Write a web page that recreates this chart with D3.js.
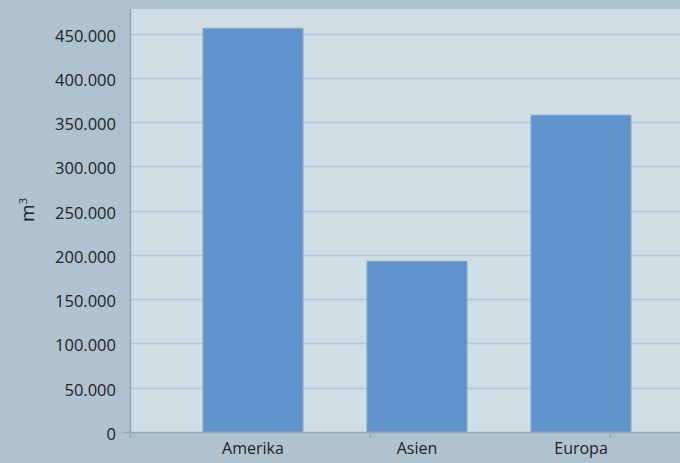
<!DOCTYPE html>
<html>
<head>
<meta charset="utf-8">
<script src="https://cdn.jsdelivr.net/npm/d3@7"></script>
<style>
    body { margin: 0; background: #afc3ce; }
    svg text { font-family: "Open Sans", "Noto Sans", sans-serif; }
</style>
</head>
<body>
<div id="chart"></div>
<script>
var categories = ["Amerika", "Asien", "Europa"];
var values = [456000, 193000, 358000];
var yTicks = [0, 50000, 100000, 150000, 200000, 250000, 300000, 350000, 400000, 450000];

var width = 680,
    height = 463,
    plotLeft = 130,
    plotTop = 9,
    baseY = 432;

var svg = d3.select("#chart")
    .append("svg")
    .attr("width", width)
    .attr("height", height)
    .style("display", "block");

svg.append("rect")
    .attr("width", width)
    .attr("height", height)
    .style("fill", "#afc3ce");

svg.append("rect")
    .attr("x", plotLeft)
    .attr("y", plotTop)
    .attr("width", width - plotLeft)
    .attr("height", baseY - plotTop)
    .style("fill", "#cfdde5");

var y = d3.scaleLinear()
    .domain([0, 450000])
    .range([baseY, 33.7]);

var x = d3.scaleBand()
    .domain(categories)
    .range([171, 663])
    .paddingInner(0.39)
    .paddingOuter(0.195);

// gridlines
svg.append("g")
    .selectAll("line")
    .data(yTicks.slice(1))
    .enter()
    .append("line")
    .attr("x1", plotLeft)
    .attr("x2", width)
    .attr("y1", d => Math.round(y(d)) + 0.5)
    .attr("y2", d => Math.round(y(d)) + 0.5)
    .style("stroke", "#b2c5d0")
    .style("stroke-width", "1.5px");

// bars
svg.append("g")
    .selectAll("rect")
    .data(values)
    .enter()
    .append("rect")
    .attr("x", (d, i) => x(categories[i]))
    .attr("y", d => y(d))
    .attr("width", x.bandwidth())
    .attr("height", d => baseY - y(d))
    .style("fill", "#5f93cd")
    .style("stroke", "#8eaaba")
    .style("stroke-width", "1px");

// y axis
var yAxis = d3.axisLeft(y)
    .tickValues(yTicks)
    .tickSize(0)
    .tickPadding(14)
    .tickFormat(d => d3.format(",")(d).replace(/,/g, "."));

var gy = svg.append("g")
    .attr("transform", "translate(" + plotLeft + ",0)")
    .call(yAxis);

gy.select("path").remove();
gy.selectAll(".tick text")
    .attr("dy", "0.45em")
    .style("fill", "#222")
    .style("font-size", "16.5px");

svg.append("line")
    .attr("x1", plotLeft + 0.5)
    .attr("x2", plotLeft + 0.5)
    .attr("y1", plotTop)
    .attr("y2", baseY + 6)
    .style("stroke", "#8ea8b5")
    .style("stroke-width", "1.5px");

// x axis
var xAxis = d3.axisBottom(x)
    .tickSize(0)
    .tickPadding(11);

var gx = svg.append("g")
    .attr("transform", "translate(0," + baseY + ")")
    .call(xAxis);

gx.select("path").remove();
gx.selectAll(".tick text")
    .style("fill", "#222")
    .style("font-size", "16px");

svg.append("line")
    .attr("x1", 123)
    .attr("x2", width)
    .attr("y1", baseY + 0.5)
    .attr("y2", baseY + 0.5)
    .style("stroke", "#8ea8b5")
    .style("stroke-width", "1.5px");

// category separators below the axis
var sep = d3.scaleLinear().domain([0, 2]).range([plotLeft, 610]);
svg.append("g")
    .selectAll("line")
    .data([1, 2])
    .enter()
    .append("line")
    .attr("x1", d => sep(d) + 0.5)
    .attr("x2", d => sep(d) + 0.5)
    .attr("y1", baseY)
    .attr("y2", baseY + 6)
    .style("stroke", "#8ea8b5")
    .style("stroke-width", "1.5px");

// y axis title
var title = svg.append("text")
    .attr("transform", "translate(34,210) rotate(-90)")
    .attr("text-anchor", "middle")
    .style("fill", "#222")
    .style("font-size", "19px");
title.append("tspan").text("m");
title.append("tspan")
    .attr("dy", "-0.6em")
    .style("font-size", "11px")
    .text("3");
</script>
</body>
</html>
